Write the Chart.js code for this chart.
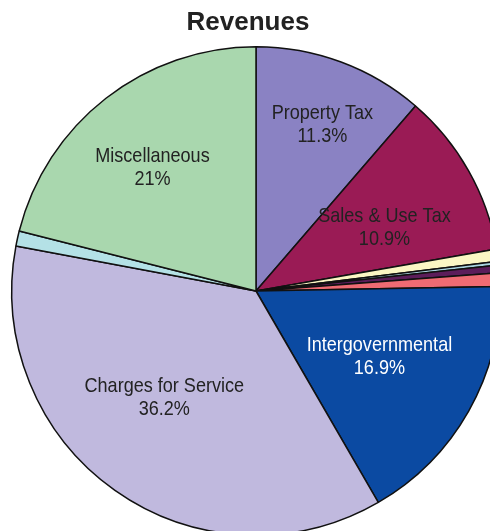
<!DOCTYPE html>
<html>
<head>
<meta charset="utf-8">
<script src="https://cdn.jsdelivr.net/npm/chart.js@4"></script>
<style>
  html, body { margin: 0; padding: 0; background: #fff; }
  body { width: 490px; height: 531px; overflow: hidden; position: relative; }
  #wrap { position: absolute; left: 0; top: 0; }
</style>
</head>
<body>
<div id="wrap"><canvas id="myChart" width="512" height="582"></canvas></div>
<script>
// revenue shares, clockwise from 12 o'clock
const categories = [
  "Property Tax", "Sales & Use Tax", "Franchise Fees", "Licenses & Permits",
  "Fines & Forfeitures", "Interest", "Intergovernmental", "Charges for Service",
  "Transfers", "Miscellaneous"
];
const shares = [11.3, 10.9, 0.8, 0.25, 0.5, 0.9, 16.9, 36.2, 1.0, 21];
const shownLabels = ["Property Tax", "Sales & Use Tax", "", "", "", "", "Intergovernmental", "Charges for Service", "", "Miscellaneous"];
const shownValues = ["11.3%", "10.9%", "", "", "", "", "16.9%", "36.2%", "", "21%"];

const colors = ["#8a82c3", "#9a1b55", "#fbf6c4", "#a9d4e0", "#5c1d5a", "#ef6b73",
  "#0b4aa2", "#c0b9de", "#b4e1e6", "#a9d7ae"];
const textColors = ["#222", "#222", "#222", "#222", "#222", "#222", "#fff", "#222", "#222", "#222"];
// label placement: fraction of radius, and a small turn (degrees) off the slice middle
const labelRadius = [0.735, 0.588, 0, 0, 0, 0, 0.571, 0.576, 0, 0.661];
const labelTurn = [1.3, 3, 0, 0, 0, 0, -1.7, 5.4, 0, -2];

const FONT = "'Liberation Sans', Arial, sans-serif";

function narrowText(ctx, text, x, y) {
  ctx.save();
  ctx.translate(x, y);
  ctx.scale(0.86, 1);
  ctx.fillText(text, 0, 0);
  ctx.restore();
}

const sliceLabels = {
  id: "sliceLabels",
  afterDatasetsDraw(chart) {
    const ctx = chart.ctx;
    const meta = chart.getDatasetMeta(0);
    ctx.save();
    ctx.textAlign = "center";
    ctx.textBaseline = "middle";
    ctx.font = "21px " + FONT;
    meta.data.forEach((arc, i) => {
      if (!shownLabels[i]) return;
      const p = arc.getProps(["x", "y", "startAngle", "endAngle", "outerRadius"], true);
      const mid = (p.startAngle + p.endAngle) / 2 + labelTurn[i] * Math.PI / 180;
      const r = p.outerRadius * labelRadius[i];
      const x = p.x + Math.cos(mid) * r;
      const y = p.y + Math.sin(mid) * r;
      ctx.fillStyle = textColors[i];
      narrowText(ctx, shownLabels[i], x, y - 11);
      narrowText(ctx, shownValues[i], x, y + 12);
    });
    // title
    ctx.fillStyle = "#222";
    ctx.font = "bold 26px " + FONT;
    ctx.fillText("Revenues", 248, 23);
    ctx.restore();
  }
};

new Chart(document.getElementById("myChart").getContext("2d"), {
  type: "pie",
  data: {
    labels: categories,
    datasets: [{
      data: shares,
      backgroundColor: colors,
      borderColor: "#111",
      borderWidth: 1.5
    }]
  },
  options: {
    responsive: false,
    animation: false,
    layout: { padding: { left: 11, right: 11, top: 0, bottom: 0 } },
    plugins: {
      legend: { display: false },
      tooltip: { enabled: false }
    }
  },
  plugins: [sliceLabels]
});
</script>
</body>
</html>
